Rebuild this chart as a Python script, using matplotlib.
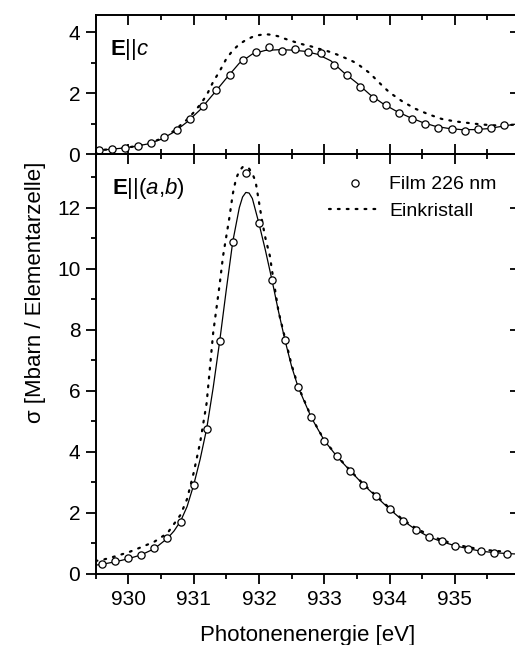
import matplotlib
matplotlib.use("Agg")
import matplotlib.pyplot as plt
from matplotlib.lines import Line2D
from matplotlib.ticker import MultipleLocator

plt.rcParams['font.family'] = ['Liberation Sans', 'DejaVu Sans']
plt.rcParams['mathtext.fontset'] = 'custom'
plt.rcParams['mathtext.rm'] = 'Liberation Sans'
plt.rcParams['mathtext.it'] = 'Liberation Sans:italic'
plt.rcParams['mathtext.bf'] = 'Liberation Sans:bold'

# ---------------- data: E || c (top panel) ----------------
c_film_x = [929.55, 929.75, 929.95, 930.15, 930.35, 930.55, 930.75, 930.95, 931.15, 931.35,
            931.55, 931.75, 931.95, 932.15, 932.35, 932.55, 932.75, 932.95, 933.15, 933.35,
            933.55, 933.75, 933.95, 934.15, 934.35, 934.55, 934.75, 934.95, 935.15, 935.35,
            935.55, 935.75]
c_film_y = [0.13, 0.15, 0.21, 0.26, 0.35, 0.55, 0.80, 1.15, 1.57, 2.09,
            2.60, 3.08, 3.34, 3.50, 3.37, 3.44, 3.33, 3.31, 2.92, 2.59,
            2.21, 1.85, 1.60, 1.34, 1.16, 0.99, 0.86, 0.83, 0.77, 0.83,
            0.84, 0.96]

c_fit_x = [929.5, 929.7, 929.9, 930.1, 930.3, 930.5, 930.7, 930.9, 931.1, 931.3,
           931.5, 931.7, 931.9, 932.1, 932.3, 932.5, 932.7, 932.9, 933.1, 933.3,
           933.5, 933.7, 933.9, 934.1, 934.3, 934.5, 934.7, 934.9, 935.1, 935.3,
           935.5, 935.7, 935.9, 936.0]
c_fit_y = [0.12, 0.15, 0.19, 0.25, 0.33, 0.48, 0.72, 1.05, 1.45, 1.96,
           2.48, 2.98, 3.28, 3.40, 3.42, 3.41, 3.37, 3.27, 3.06, 2.67,
           2.33, 1.95, 1.65, 1.41, 1.21, 1.04, 0.91, 0.84, 0.80, 0.80,
           0.83, 0.90, 0.97, 1.00]

c_xtal_x = [929.5, 929.7, 929.9, 930.1, 930.3, 930.5, 930.7, 930.9, 931.0, 931.1,
            931.2, 931.3, 931.4, 931.5, 931.6, 931.7, 931.8, 931.9, 932.0, 932.1,
            932.2, 932.3, 932.4, 932.5, 932.6, 932.7, 932.8, 932.9, 933.0, 933.1,
            933.2, 933.3, 933.4, 933.5, 933.6, 933.7, 933.8, 933.9, 934.0, 934.2,
            934.4, 934.6, 934.8, 935.0, 935.2, 935.4, 935.6, 935.8, 936.0]
c_xtal_y = [0.12, 0.15, 0.19, 0.25, 0.34, 0.50, 0.76, 1.13, 1.36, 1.62,
            1.93, 2.37, 2.72, 3.12, 3.40, 3.60, 3.74, 3.84, 3.90, 3.93,
            3.91, 3.86, 3.78, 3.71, 3.64, 3.58, 3.53, 3.46, 3.41, 3.34,
            3.26, 3.17, 3.08, 2.97, 2.81, 2.65, 2.43, 2.22, 2.02, 1.72,
            1.48, 1.30, 1.15, 1.07, 1.02, 0.97, 0.94, 0.95, 0.97]

# ---------------- data: E || (a,b) (bottom panel) ----------------
ab_film_x = [929.6, 929.8, 930.0, 930.2, 930.4, 930.6, 930.8, 931.0, 931.2, 931.4,
             931.6, 931.8, 932.0, 932.2, 932.4, 932.6, 932.8, 933.0, 933.2, 933.4,
             933.6, 933.8, 934.0, 934.2, 934.4, 934.6, 934.8, 935.0, 935.2, 935.4,
             935.6, 935.8]
ab_film_y = [0.31, 0.40, 0.50, 0.61, 0.83, 1.18, 1.70, 2.92, 4.75, 7.63,
             10.89, 13.14, 11.49, 9.63, 7.65, 6.12, 5.13, 4.35, 3.86, 3.37,
             2.91, 2.55, 2.11, 1.73, 1.44, 1.20, 1.06, 0.91, 0.82, 0.73,
             0.69, 0.66]

ab_fit_x = [929.5, 929.6, 929.8, 930.0, 930.2, 930.4, 930.6, 930.7, 930.8, 930.9,
            931.0, 931.1, 931.2, 931.3, 931.4, 931.5, 931.6, 931.7, 931.75, 931.8,
            931.85, 931.9, 932.0, 932.1, 932.2, 932.3, 932.4, 932.5, 932.6, 932.8,
            933.0, 933.2, 933.4, 933.6, 933.8, 934.0, 934.2, 934.4, 934.6, 934.8,
            935.0, 935.2, 935.4, 935.6, 935.8, 936.0]
ab_fit_y = [0.28, 0.31, 0.39, 0.49, 0.62, 0.82, 1.16, 1.40, 1.72, 2.20,
            2.90, 3.75, 4.75, 6.10, 7.63, 9.30, 10.89, 12.00, 12.35, 12.50,
            12.48, 12.30, 11.49, 10.60, 9.63, 8.60, 7.65, 6.80, 6.12, 5.13,
            4.37, 3.83, 3.37, 2.92, 2.52, 2.12, 1.75, 1.45, 1.21, 1.05,
            0.92, 0.82, 0.74, 0.69, 0.66, 0.64]

ab_xtal_x = [929.5, 929.6, 929.8, 930.0, 930.2, 930.4, 930.6, 930.8, 930.9, 931.0,
             931.1, 931.2, 931.3, 931.4, 931.45, 931.5, 931.55, 931.6, 931.65, 931.7,
             931.75, 931.8, 931.85, 931.9, 931.95, 932.0, 932.05, 932.1, 932.17, 932.2,
             932.3, 932.4, 932.5, 932.6, 932.8, 933.0, 933.2, 933.4, 933.6, 933.8,
             934.0, 934.2, 934.4, 934.6, 934.8, 935.0, 935.2, 935.4, 935.6, 935.8,
             936.0]
ab_xtal_y = [0.42, 0.45, 0.57, 0.70, 0.87, 1.05, 1.33, 1.93, 2.45, 3.30,
             4.30, 5.60, 7.90, 9.50, 10.40, 11.05, 11.70, 12.45, 12.95, 13.20,
             13.33, 13.35, 13.28, 13.12, 12.85, 12.20, 11.55, 11.00, 10.40, 9.95,
             8.60, 7.72, 6.85, 6.15, 5.15, 4.38, 3.85, 3.38, 2.94, 2.55,
             2.15, 1.78, 1.50, 1.27, 1.10, 0.97, 0.87, 0.80, 0.75, 0.72,
             0.70]

xticks = [930, 931, 932, 933, 934, 935]
xticklabels = ['930', '931', '932', '933', '934', '935']

# ---------------- figure ----------------
W, H = 515, 645
fig = plt.figure(figsize=(W / 100, H / 100), dpi=100)
x0, x1 = 95.65, 520.1
y_mid, y_top, y_bot = 154.0, 15.0, 573.7
ax_top = fig.add_axes([x0 / W, 1 - y_mid / H, (x1 - x0) / W, (y_mid - y_top) / H])
ax_bot = fig.add_axes([x0 / W, 1 - y_bot / H, (x1 - x0) / W, (y_bot - y_mid) / H])

dot_style = dict(color='black', lw=1.6, linestyle=(0, (0.8, 3.2)), dash_capstyle='round')
mk_style = dict(linestyle='none', marker='o', markersize=5.2, markerfacecolor='white',
                markeredgecolor='black', markeredgewidth=0.9)

for ax in (ax_top, ax_bot):
    for s in ax.spines.values():
        s.set_linewidth(1.4)
    ax.set_xlim(929.5, 936.0)
    ax.xaxis.set_major_locator(MultipleLocator(1))
    ax.xaxis.set_minor_locator(MultipleLocator(0.5))
    ax.yaxis.set_major_locator(MultipleLocator(2))
    ax.yaxis.set_minor_locator(MultipleLocator(1))
    ax.tick_params(axis='y', which='both', direction='out', left=True, right=False,
                   labelsize=15, pad=4, width=1.3)
    ax.tick_params(axis='y', which='major', length=7)
    ax.tick_params(axis='y', which='minor', length=3.6)
    sec = ax.secondary_yaxis('right')
    sec.yaxis.set_major_locator(MultipleLocator(2))
    sec.yaxis.set_minor_locator(MultipleLocator(1))
    sec.tick_params(which='both', direction='in', labelright=False, width=1.3)
    sec.tick_params(which='major', length=7)
    sec.tick_params(which='minor', length=3.6)
    sec.spines['right'].set_linewidth(1.4)

# top panel
ax_top.plot(c_xtal_x, c_xtal_y, **dot_style)
ax_top.plot(c_fit_x, c_fit_y, color='black', lw=0.9)
ax_top.plot(c_film_x, c_film_y, **mk_style)
ax_top.set_ylim(0, 4.56)
ax_top.tick_params(axis='x', which='both', direction='in', top=True, bottom=True,
                   labelbottom=False, width=1.3)
ax_top.tick_params(axis='x', which='major', length=7)
ax_top.tick_params(axis='x', which='minor', length=3.6)
ax_top.text(0.034, 0.712, r'$\mathbf{E}\mathrm{||}\mathit{c}$', transform=ax_top.transAxes,
            fontsize=16, va='baseline', ha='left')

# bottom panel
ax_bot.plot(ab_xtal_x, ab_xtal_y, **dot_style)
ax_bot.plot(ab_fit_x, ab_fit_y, color='black', lw=0.9)
ax_bot.plot(ab_film_x, ab_film_y, **mk_style)
ax_bot.set_ylim(0, 13.76)
ax_bot.set_xticks(xticks)
ax_bot.set_xticklabels(xticklabels)
ax_bot.tick_params(axis='x', which='both', direction='out', top=False, bottom=True,
                   labelsize=15, pad=5, width=1.3)
ax_bot.tick_params(axis='x', which='major', length=7)
ax_bot.tick_params(axis='x', which='minor', length=3.6)
secx = ax_bot.secondary_xaxis('top')
secx.xaxis.set_major_locator(MultipleLocator(1))
secx.xaxis.set_minor_locator(MultipleLocator(0.5))
secx.tick_params(which='both', direction='in', labeltop=False, width=1.3)
secx.tick_params(which='major', length=7)
secx.tick_params(which='minor', length=3.6)
secx.spines['top'].set_linewidth(1.4)

ax_bot.text(0.038, 0.905, r'$\mathbf{E}\mathrm{||(}\mathit{a}\mathrm{,}\mathit{b}\mathrm{)}$',
            transform=ax_bot.transAxes, fontsize=16, va='baseline', ha='left')

handles = [Line2D([], [], **mk_style),
           Line2D([], [], **dot_style)]
ax_bot.legend(handles, ['Film 226 nm', 'Einkristall'], loc='upper left',
              bbox_to_anchor=(0.550, 0.948), frameon=False, fontsize=14,
              handlelength=2.7, handletextpad=0.4, labelspacing=0.45,
              borderpad=0, borderaxespad=0)

ax_bot.set_xlabel('Photonenenergie [eV]', fontsize=16, labelpad=11)
fig.text(36 / W, 1 - 292 / H, u'\u03c3 [Mbarn / Elementarzelle]', rotation=90,
         fontsize=16, ha='center', va='center')

fig.savefig('out.png', dpi=100)
